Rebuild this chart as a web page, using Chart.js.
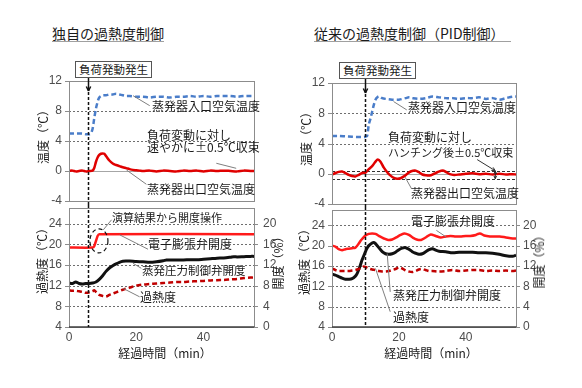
<!DOCTYPE html>
<html>
<head>
<meta charset="utf-8">
<script src="https://cdn.jsdelivr.net/npm/chart.js@4"></script>
<style>
  html, body { margin: 0; padding: 0; background: #fff; }
  #wrap { position: relative; width: 582px; height: 388px; overflow: hidden; font-family: "Noto Sans CJK JP", sans-serif; color: #1a1a1a; }
  #wrap canvas { position: absolute; }
  .t { position: absolute; white-space: nowrap; font-size: 12px; line-height: 14px; }
  .title { position: absolute; white-space: nowrap; font-size: 14px; line-height: 16px; border-bottom: 1.5px solid #a0a0a0; }
  .box { position: absolute; height: 15px; line-height: 15px; font-size: 11.5px; text-align: center; border: 1px solid #555; background: #fff; white-space: nowrap; }
  .rot { position: absolute; white-space: nowrap; font-size: 12px; line-height: 14px; transform: translate(-50%, -50%) rotate(-90deg); }
  .xt { position: absolute; white-space: nowrap; font-size: 12px; line-height: 14px; transform: translate(-50%, -50%); }
</style>
</head>
<body>
<div id="wrap">
  <canvas id="ownTop" width="291" height="145" style="left:0px;top:60px"></canvas>
  <canvas id="ownBottom" width="291" height="150" style="left:0px;top:205px"></canvas>
  <canvas id="pidTop" width="291" height="145" style="left:291px;top:62px"></canvas>
  <canvas id="pidBottom" width="291" height="150" style="left:291px;top:207px"></canvas>

  <div class="title" style="left:52px;top:25px">独自の過熱度制御</div>
  <div class="title" style="left:314px;top:25px;padding-right:6px">従来の過熱度制御（PID制御）</div>

  <div class="box" style="left:75px;top:61px;width:75px">負荷発動発生</div>
  <div class="box" style="left:339px;top:62px;width:75px">負荷発動発生</div>

  <div class="rot" style="left:43px;top:134px">温度（℃）</div>
  <div class="rot" style="left:306px;top:136px">温度（℃）</div>
  <div class="rot" style="left:42px;top:258px">過熱度（℃）</div>
  <div class="rot" style="left:278px;top:260px">開度（%）</div>
  <div class="rot" style="left:304px;top:259px">過熱度（℃）</div>
  <div class="rot" style="left:539px;top:259px">開度（%）</div>
  <div class="xt" style="left:165px;top:353px">経過時間（min）</div>
  <div class="xt" style="left:431px;top:353px">経過時間（min）</div>

  <div class="t" style="left:152px;top:99px">蒸発器入口空気温度</div>
  <div class="t" style="left:147px;top:128px">負荷変動に対し</div>
  <div class="t" style="left:147px;top:140px">速やかに±0.5℃収束</div>
  <div class="t" style="left:147px;top:182px">蒸発器出口空気温度</div>

  <div class="t" style="left:112px;top:210px;font-size:11px">演算結果から開度操作</div>
  <div class="t" style="left:148px;top:237px">電子膨張弁開度</div>
  <div class="t" style="left:142px;top:263px;font-size:11.5px">蒸発圧力制御弁開度</div>
  <div class="t" style="left:140px;top:290px">過熱度</div>

  <div class="t" style="left:408px;top:100px">蒸発器入口空気温度</div>
  <div class="t" style="left:388px;top:130px">負荷変動に対し</div>
  <div class="t" style="left:388px;top:145px;font-size:11px">ハンチング後±0.5℃収束</div>
  <div class="t" style="left:411px;top:186px">蒸発器出口空気温度</div>

  <div class="t" style="left:411px;top:214px">電子膨張弁開度</div>
  <div class="t" style="left:393px;top:288px">蒸発圧力制御弁開度</div>
  <div class="t" style="left:393px;top:310px">過熱度</div>
</div>
<script>
// time axis (min) and value axes
const timeRange = [0, 55];
const timeStep = 20;
const tempRange = [-4, 12];
const superheatRange = [4, 27];
const openRange = [0, 23];
const valueStep = 4;

// load change moments (min)
const ownEventMin = 5.5;
const pidEventMin = 10;

// ---- own superheat control ----
const ownInletTime = [0,1,2,3,4,5,6,6.5,7,7.5,8,8.5,9,10,11,12,13,14,15,16,17,18,20,22,24,26,28,30,32,34,36,38,40,42,44,46,48,50,52,54,55];
const ownInletTemp = [5.0,5.0,5.0,5.0,5.0,4.9,4.9,5.0,5.6,7.0,8.3,9.2,9.8,10.1,10.1,10.2,10.2,10.3,10.2,10.1,10.0,10.0,9.9,9.9,9.8,9.9,9.9,9.8,9.9,9.9,10.0,9.9,10.0,9.9,10.0,10.0,10.0,9.9,10.0,10.0,10.0];

const ownOutletTime = [0,1,2,3,4,5,6,7,7.5,8,8.5,9,9.5,10,10.5,11,12,13,14,15,16,17,18,19,20,21,22,24,26,28,30,32,34,36,38,40,42,44,46,48,50,52,54,55];
const ownOutletTemp = [0,0.05,-0.05,0,0.05,-0.05,0,0.05,0.4,1.2,1.8,2.15,2.3,2.35,2.3,2.0,1.4,1.0,0.8,0.65,0.5,0.38,0.25,0.15,0.1,0.05,0.0,0.05,-0.05,0.05,0,-0.05,0.05,0,0.05,-0.05,0.05,0,0.05,0,-0.05,0.05,0,0];

const ownEevTime = [0,7,7.5,8,8.5,9,55];
const ownEevOpen = [15.35,15.35,15.6,16.6,17.6,17.95,17.95];

const ownEprTime = [0,1,2,3,4,5,6,7,8,9,10,11,12,13,14,15,16,17,18,20,22,24,26,28,29,30,32,34,36,38,40,42,44,46,48,49,50,52,54,55];
const ownEprOpen = [8.5,8.4,8.7,8.4,8.3,8.4,8.4,8.5,8.7,9.2,9.9,10.75,11.4,11.85,12.2,12.5,12.7,12.75,12.75,12.65,12.6,12.5,12.6,12.8,12.95,12.95,12.95,12.95,13.0,13.0,13.1,13.2,13.3,13.35,13.5,13.6,13.55,13.6,13.65,13.65];

const ownShTime = [0,1,2,3,4,5,6,7,7.5,8,9,10,11,12,13,14,16,18,20,22,24,26,28,30,32,34,36,38,40,42,44,46,48,50,52,54,55];
const ownSh = [11.1,11.0,11.0,10.9,10.8,10.6,10.7,10.9,11.1,10.8,10.2,10.0,9.9,10.2,10.45,10.7,11.2,11.6,12.0,12.2,12.3,12.4,12.5,12.6,12.7,12.7,12.8,12.85,12.9,13.0,13.05,13.1,13.2,13.3,13.45,13.55,13.6];

// ---- conventional PID control ----
const pidInletTime = [0,2,4,6,8,9,10,10.5,11,11.5,12,12.5,13,13.5,14,15,16,18,20,22,23,24,26,28,30,32,34,36,38,40,42,44,46,48,50,52,54,55];
const pidInletTemp = [5.0,5.0,4.95,4.9,4.85,4.85,4.9,5.0,6.5,7.3,8.2,9.1,9.8,10.1,10.25,10.0,9.9,9.8,9.8,10.0,10.1,10.0,9.9,10.0,10.2,10.1,10.0,10.0,9.9,10.0,10.0,10.1,9.9,10.0,9.8,10.0,10.2,10.2];

const pidOutletTime = [0,1,2,3,4,5,6,7,8,9,10,11,12,13,13.7,14.5,15.5,16.5,17.5,18.5,19.5,20.5,21.5,22.5,23.5,24.8,26,27,28,29.2,30.5,31.5,33.1,34.2,35.2,36.5,38,40,42,44,46,48,50,52,54,55];
const pidOutletTemp = [-0.1,0.1,0.25,0.3,0.1,-0.15,-0.3,-0.35,-0.15,0.1,0.15,0.6,1.0,1.6,1.87,1.6,0.8,0.2,-0.25,-0.55,-0.67,-0.6,-0.35,0.0,0.3,0.44,0.2,-0.1,-0.2,-0.23,0.0,0.2,0.44,0.2,-0.05,-0.15,-0.1,0.0,0.05,-0.05,0.0,-0.1,0.0,-0.1,-0.05,-0.1];
const pidBand = [0.35, -0.65];

const pidEevTime = [0,1,2,3,4,5,6,7,8,8.5,9,10,11,12,13,14.3,15.5,16.8,18,19.2,20.5,21.7,23,24.1,25.3,26.6,28,29.5,31,32.5,34,35.4,37,38.3,40,41.3,43,44.2,45.5,47.2,48.5,50.1,52,54,55];
const pidEevOpen = [16.0,15.8,15.3,15.1,15.3,15.4,15.5,15.6,16.4,16.9,17.3,18.0,18.3,18.4,18.3,17.8,17.4,17.1,17.2,17.6,18.1,18.4,18.1,17.6,17.2,17.1,17.6,18.2,17.9,17.6,17.8,17.9,17.8,17.8,17.9,17.9,18.1,18.4,18.0,17.8,17.8,17.8,17.6,17.4,17.4];

const pidEprTime = [0,1,2,3,4,5,6,7,7.5,8,8.5,9,9.5,10,10.5,11,12,12.5,13,14,15,16,17,18,19,20,21,22,23,24,25,26,27,28,29,30,31,32,34,36,38,40,42,44,46,48,50,52,54,55];
const pidEprOpen = [10.4,10.2,9.9,9.6,9.4,9.4,9.5,10.0,10.5,11.3,12.2,13.2,14.0,14.8,15.5,16.0,16.5,16.6,16.4,15.6,14.8,14.4,14.3,14.4,14.7,15.2,15.5,15.6,15.3,14.8,14.5,14.3,14.4,14.8,15.2,15.4,15.1,14.9,14.8,14.6,14.7,14.7,14.7,14.6,14.6,14.5,14.3,14.0,13.9,14.1];

const pidShTime = [0,1,2,3,4,5,6,7,8,9,9.5,10,11,12,13,14,15,16,17,18,19,20,21,22,23,24,25,26,27,28,29,30,32,34,36,38,40,42,44,46,48,50,52,54,55];
const pidSh = [15.5,15.2,15.0,15.0,15.0,15.0,15.1,15.2,15.4,15.7,15.9,15.8,15.5,15.3,15.2,15.0,14.9,14.9,15.0,15.2,15.4,15.7,15.5,15.1,14.9,14.8,15.0,15.3,15.4,15.2,15.0,15.0,14.9,15.0,15.2,15.0,15.1,15.2,15.2,15.0,15.1,15.0,15.1,15.0,15.1];

const tickFont = { family: 'Liberation Sans', size: 12 };
const tickColor = '#4d4d4d';
const frameColor = '#8c8c8c';

function series(times, values, color, width, dash, axis, tension) {
    return {
        data: times.map((t, i) => ({ x: t, y: values[i] })),
        borderColor: color,
        borderWidth: width,
        borderDash: dash || [],
        pointRadius: 0,
        fill: false,
        tension: tension === undefined ? 0.3 : tension,
        yAxisID: axis || 'y'
    };
}

function arrowHead(ctx, x1, y1, x2, y2, size) {
    const ang = Math.atan2(y2 - y1, x2 - x1);
    ctx.beginPath();
    ctx.moveTo(x2, y2);
    ctx.lineTo(x2 - size * Math.cos(ang - 0.45), y2 - size * Math.sin(ang - 0.45));
    ctx.moveTo(x2, y2);
    ctx.lineTo(x2 - size * Math.cos(ang + 0.45), y2 - size * Math.sin(ang + 0.45));
    ctx.stroke();
}

// fixed axis size, no extra padding from edge labels
function fixSize(key, size) {
    return s => {
        s[key] = size;
        s.paddingTop = 0;
        s.paddingBottom = 0;
        s.paddingLeft = 0;
        s.paddingRight = 0;
    };
}

// frame, grid, event line and leader lines
const panelPlugin = {
    id: 'panel',
    beforeDatasetsDraw(chart, args, o) {
        const { ctx, chartArea: a, scales } = chart;
        const y = scales.y;
        ctx.save();
        ctx.lineWidth = 1;
        y.ticks.forEach(tk => {
            if (tk.value === y.min || tk.value === y.max) return;
            const py = Math.round(y.getPixelForValue(tk.value)) + 0.5;
            ctx.strokeStyle = tk.value === 0 ? '#a6a6a6' : '#6e6e6e';
            ctx.setLineDash(tk.value === 0 ? [] : [2, 2]);
            ctx.beginPath();
            ctx.moveTo(a.left, py);
            ctx.lineTo(a.right, py);
            ctx.stroke();
        });
        if (o.band) {
            ctx.strokeStyle = '#333';
            ctx.setLineDash([3, 2]);
            o.band.forEach(v => {
                const py = Math.round(y.getPixelForValue(v)) + 0.5;
                ctx.beginPath();
                ctx.moveTo(a.left, py);
                ctx.lineTo(a.right, py);
                ctx.stroke();
            });
        }
        ctx.restore();
    },
    afterDatasetsDraw(chart, args, o) {
        const { ctx, chartArea: a, scales } = chart;
        const x = scales.x, y = scales.y;
        ctx.save();
        // frame
        ctx.lineWidth = 1;
        ctx.strokeStyle = frameColor;
        ctx.setLineDash([]);
        ctx.strokeRect(Math.round(a.left) + 0.5, Math.round(a.top) + 0.5, Math.round(a.right - a.left), Math.round(a.bottom - a.top));
        if (o.darkBase) {
            ctx.strokeStyle = '#404040';
            ctx.lineWidth = 1.5;
            ctx.beginPath();
            ctx.moveTo(a.left, a.bottom);
            ctx.lineTo(a.right + 0.5, a.bottom);
            ctx.stroke();
        }
        // tick marks
        ctx.strokeStyle = frameColor;
        ctx.lineWidth = 1;
        y.ticks.forEach(tk => {
            const py = Math.round(y.getPixelForValue(tk.value)) + 0.5;
            ctx.beginPath();
            ctx.moveTo(a.left - 4, py);
            ctx.lineTo(a.left, py);
            ctx.stroke();
        });
        if (scales.y2) {
            scales.y2.ticks.forEach(tk => {
                const py = Math.round(scales.y2.getPixelForValue(tk.value)) + 0.5;
                ctx.beginPath();
                ctx.moveTo(a.right, py);
                ctx.lineTo(a.right + 4, py);
                ctx.stroke();
            });
        }
        // load change line
        const ex = Math.round(x.getPixelForValue(o.event)) + 0.5;
        ctx.strokeStyle = '#111';
        ctx.lineWidth = 1.5;
        if (o.arrow) {
            const tip = a.top + 10;
            ctx.beginPath();
            ctx.moveTo(ex, a.top - 5);
            ctx.lineTo(ex, tip);
            ctx.stroke();
            arrowHead(ctx, ex, a.top - 5, ex, tip, 5);
            ctx.setLineDash([3, 2]);
            ctx.beginPath();
            ctx.moveTo(ex, tip + 1);
            ctx.lineTo(ex, chart.height);
            ctx.stroke();
        } else {
            ctx.setLineDash([3, 2]);
            ctx.beginPath();
            ctx.moveTo(ex, 0);
            ctx.lineTo(ex, a.bottom);
            ctx.stroke();
        }
        // leader lines
        ctx.setLineDash([]);
        ctx.lineWidth = 1;
        (o.leaders || []).forEach(l => {
            const x1 = x.getPixelForValue(l[0]), y1 = y.getPixelForValue(l[1]);
            const x2 = x.getPixelForValue(l[2]), y2 = y.getPixelForValue(l[3]);
            ctx.strokeStyle = l[4] ? '#333' : '#7f7f7f';
            ctx.beginPath();
            ctx.moveTo(x1, y1);
            ctx.lineTo(x2, y2);
            ctx.stroke();
            if (l[4]) arrowHead(ctx, x1, y1, x2, y2, 4);
        });
        if (o.band) {
            const bx = x.getPixelForValue(o.bandMark);
            const b1 = y.getPixelForValue(o.band[0]), b2 = y.getPixelForValue(o.band[1]);
            ctx.strokeStyle = '#222';
            ctx.beginPath();
            ctx.moveTo(bx, b1);
            ctx.lineTo(bx, b2);
            ctx.stroke();
            arrowHead(ctx, bx, b2, bx, b1, 3);
            arrowHead(ctx, bx, b1, bx, b2, 3);
        }
        if (o.ring) {
            ctx.strokeStyle = '#111';
            ctx.lineWidth = 1.2;
            ctx.setLineDash([4, 3]);
            ctx.beginPath();
            ctx.ellipse(x.getPixelForValue(o.ring[0]), y.getPixelForValue(o.ring[1]), 9, 12, 0, 0, Math.PI * 2);
            ctx.stroke();
        }
        ctx.restore();
    }
};

function makePanel(id, datasets, cfg) {
    const scales = {
        x: {
            type: 'linear', min: timeRange[0], max: timeRange[1], display: cfg.showX,
            grid: { display: false, drawTicks: false }, border: { display: false },
            ticks: { stepSize: timeStep, includeBounds: false, padding: 3, color: tickColor, font: tickFont, maxRotation: 0 },
            afterFit: fixSize('height', cfg.showX ? 28 : 0)
        },
        y: {
            min: cfg.yRange[0], max: cfg.yRange[1],
            grid: { display: false, drawTicks: false }, border: { display: false },
            ticks: { stepSize: valueStep, includeBounds: false, padding: 7, color: tickColor, font: tickFont },
            afterFit: fixSize('width', cfg.yWidth)
        }
    };
    if (cfg.y2Width) {
        scales.y2 = {
            position: 'right', min: openRange[0], max: openRange[1],
            grid: { display: false, drawTicks: false }, border: { display: false },
            ticks: { stepSize: valueStep, includeBounds: false, padding: cfg.y2Pad, color: tickColor, font: tickFont },
            afterFit: fixSize('width', cfg.y2Width)
        };
    }
    return new Chart(document.getElementById(id), {
        type: 'line',
        data: { datasets: datasets },
        options: {
            responsive: false,
            animation: false,
            layout: { autoPadding: false, padding: cfg.padding },
            scales: scales,
            plugins: {
                legend: { display: false },
                tooltip: { enabled: false },
                panel: cfg.panel
            }
        },
        plugins: [panelPlugin]
    });
}

makePanel('ownTop', [
    series(ownInletTime, ownInletTemp, '#4a7dc9', 2.5, [5, 3]),
    series(ownOutletTime, ownOutletTemp, '#e00000', 2.5)
], {
    showX: false, yRange: tempRange, yWidth: 69,
    padding: { top: 21, bottom: 4, left: 0, right: 37 },
    panel: {
        event: ownEventMin, arrow: true,
        leaders: [[19.05, 10.04, 24, 8.71], [43.8, 1.03, 49.7, 0.36], [17.1, 0.13, 23.0, -1.77]]
    }
});

makePanel('ownBottom', [
    series(ownShTime, ownSh, '#c00000', 2.5, [5, 3]),
    series(ownEprTime, ownEprOpen, '#111111', 3, null, 'y2'),
    series(ownEevTime, ownEevOpen, '#ff1a1a', 2.5, null, 'y2', 0.15)
], {
    showX: true, yRange: superheatRange, yWidth: 69, y2Width: 37, y2Pad: 9,
    padding: { top: 3, bottom: 0, left: 0, right: 0 },
    panel: {
        event: ownEventMin, arrow: false, darkBase: true, ring: [8.9, 20.64],
        leaders: [[10.2, 22.78, 12.65, 24.72], [15.1, 21.8, 23.5, 19.03], [19.05, 16.31, 21.5, 15.34], [16.1, 11.46, 21.0, 9.83]]
    }
});

makePanel('pidTop', [
    series(pidInletTime, pidInletTemp, '#4a7dc9', 2.5, [5, 3]),
    series(pidOutletTime, pidOutletTemp, '#e00000', 2.5)
], {
    showX: false, yRange: tempRange, yWidth: 41,
    padding: { top: 21, bottom: 3, left: 0, right: 66 },
    panel: {
        event: pidEventMin, arrow: true, band: pidBand, bandMark: 48.8,
        leaders: [[18.4, 9.55, 22.35, 8.44], [43.4, 1.87, 48.8, 0.4, true], [21.85, -0.45, 23.8, -2.0]]
    }
});

makePanel('pidBottom', [
    series(pidShTime, pidSh, '#c00000', 2.5, [5, 3]),
    series(pidEprTime, pidEprOpen, '#111111', 3, null, 'y2'),
    series(pidEevTime, pidEevOpen, '#ff1a1a', 2.5, null, 'y2')
], {
    showX: true, yRange: superheatRange, yWidth: 41, y2Width: 66, y2Pad: 7,
    padding: { top: 3, bottom: 2, left: 0, right: 0 },
    panel: {
        event: pidEventMin, arrow: false, darkBase: true,
        leaders: [[31.2, 23.0, 34.1, 21.7], [16.5, 18.45, 17.4, 10.9], [13.0, 15.5, 17.4, 7.0]]
    }
});
</script>
</body>
</html>
